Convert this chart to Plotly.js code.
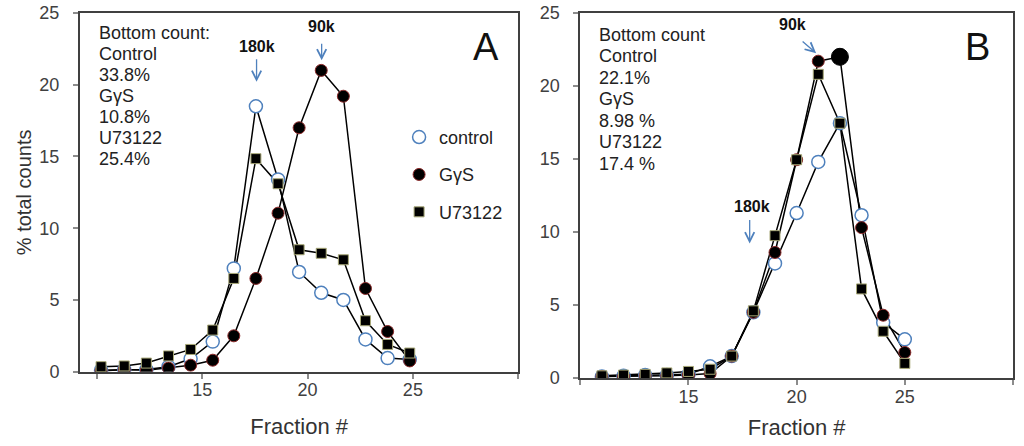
<!DOCTYPE html>
<html>
<head>
<meta charset="utf-8">
<script src="https://cdn.plot.ly/plotly-3.0.1.min.js"></script>
<style>
  html, body { margin: 0; padding: 0; background: #fff; }
  #chart { width: 1024px; height: 446px; }
</style>
</head>
<body>
<div id="chart"></div>
<script>
// panel A - fraction positions as they sit in the picture
const fractionsA = [10.2, 11.3, 12.35, 13.4, 14.45, 15.5, 16.5, 17.55, 18.6, 19.6, 20.65, 21.7, 22.75, 23.8, 24.85];
const controlA = [0.1, 0.15, 0.15, 0.35, 0.9, 2.1, 7.2, 18.5, 13.4, 6.95, 5.5, 5.0, 2.25, 0.95, 0.85];
const gysA = [0.05, 0.15, 0.1, 0.25, 0.45, 0.8, 2.5, 6.5, 11.05, 17.0, 21.0, 19.2, 5.8, 2.8, 0.75];
const u73122A = [0.35, 0.4, 0.6, 1.1, 1.55, 2.9, 6.5, 14.85, 13.1, 8.5, 8.25, 7.8, 3.55, 1.9, 1.3];

// panel B
const fractionsB = [11, 12, 13, 14, 15, 16, 17, 18, 19, 20, 21, 22, 23, 24, 25];
const controlB = [0.1, 0.15, 0.2, 0.2, 0.25, 0.8, 1.5, 4.5, 7.85, 11.3, 14.8, 17.45, 11.15, 3.8, 2.65];
const gysB = [0.1, 0.1, 0.15, 0.15, 0.2, 0.3, 1.5, 4.5, 8.6, 14.95, 21.7, 22.0, 10.3, 4.3, 1.75];
const u73122B = [0.15, 0.2, 0.25, 0.35, 0.45, 0.6, 1.5, 4.6, 9.75, 14.95, 20.8, 17.45, 6.1, 3.2, 1.0];

const seriesNames = ["control", "G\u03b3S", "U73122"];
const bottomA = ["Bottom count:", "Control", "33.8%", "G\u03b3S", "10.8%", "U73122", "25.4%"];
const bottomB = ["Bottom count", "Control", "22.1%", "G\u03b3S", "8.98 %", "U73122", "17.4 %"];

const tickVals = [10, 15, 20, 25, 30];
const tickText = ["", "15", "20", "25", ""];

const FONT = "Liberation Sans, Arial, sans-serif";
const ARROW = "#4f81bd";

const markerStyles = [
  { symbol: "circle", size: 13, color: "#ffffff", opacity: 1, line: { color: "#4f81bd", width: 1.5 } },
  { symbol: "circle", size: 12, color: "#000000", opacity: 1, line: { color: "#8b2a2a", width: 1 } },
  { symbol: "square", size: 10, color: "#000000", opacity: 1, line: { color: "#a8a878", width: 1 } },
];

function lineTrace(x, y, xa, ya) {
  return {
    x: x, y: y, xaxis: xa, yaxis: ya,
    mode: "lines", line: { color: "#000", width: 1.5 },
    showlegend: false, hoverinfo: "skip",
  };
}

function markerTrace(x, y, xa, ya, i, legend, sizeFn) {
  const m = Object.assign({}, markerStyles[i]);
  if (sizeFn) m.size = x.map(sizeFn);
  return {
    x: x, y: y, xaxis: xa, yaxis: ya,
    mode: "markers", marker: m,
    name: seriesNames[i], showlegend: legend, legendgroup: "g" + i,
  };
}

const seriesA = [controlA, gysA, u73122A];
const seriesB = [controlB, gysB, u73122B];

var data = [];
seriesA.forEach((s) => data.push(lineTrace(fractionsA, s, "x", "y")));
seriesB.forEach((s) => data.push(lineTrace(fractionsB, s, "x2", "y2")));
seriesB.forEach((s, i) => {
  // the GyS point at fraction 22 is drawn bigger in panel B
  var sizeFn = i === 1 ? (f) => (f === 22 ? 17 : 12) : null;
  var t = markerTrace(fractionsB, s, "x2", "y2", i, false, sizeFn);
  if (i === 1) t.marker.line = { color: fractionsB.map((f) => (f === 22 ? "#000" : "#8b2a2a")), width: 1 };
  data.push(t);
});
seriesA.forEach((s, i) => data.push(markerTrace(fractionsA, s, "x", "y", i, true)));

function axisX(domain, range, anchor, standoff) {
  return {
    domain: domain, range: range, anchor: anchor,
    tickvals: tickVals, ticktext: tickText,
    ticks: "outside", ticklen: 5, tickwidth: 2, tickcolor: "#8c8c8c",
    ticklabelstandoff: -4,
    showline: true, linecolor: "#404040", linewidth: 2, mirror: true,
    showgrid: false, zeroline: false,
    tickfont: { family: FONT, size: 18, color: "#404040" },
    title: { text: "Fraction #", font: { family: FONT, size: 22, color: "#333" }, standoff: standoff },
  };
}

function axisY(domain, anchor, title) {
  return {
    domain: domain, range: [0, 25], anchor: anchor,
    tickvals: [0, 5, 10, 15, 20, 25],
    ticks: "outside", ticklen: 5, tickwidth: 2, tickcolor: "#8c8c8c",
    ticklabelstandoff: 10,
    showline: true, linecolor: "#404040", linewidth: 2, mirror: true,
    showgrid: false, zeroline: false,
    tickfont: { family: FONT, size: 18, color: "#404040" },
    title: { text: title, font: { family: FONT, size: 20, color: "#333" }, standoff: 2 },
  };
}

var annotations = [];

function textBlock(lines, xa, ya, x, yTop, step) {
  lines.forEach((t, i) => {
    annotations.push({
      xref: xa, yref: ya, x: x, y: yTop - i * step,
      text: t, showarrow: false, xanchor: "left", yanchor: "middle",
      font: { family: FONT, size: 18, color: "#222" },
    });
  });
}
textBlock(bottomA, "x", "y", 10.0, 23.6, 1.467);
textBlock(bottomB, "x2", "y2", 10.75, 23.5, 1.47);

function arrow(xa, ya, x, y, ax, ay) {
  annotations.push({
    xref: xa, yref: ya, x: x, y: y, ax: ax, ay: ay, text: "",
    showarrow: true, arrowhead: 5, arrowsize: 1.4, arrowwidth: 1.3,
    arrowcolor: ARROW, standoff: 0, startstandoff: 0,
  });
}
function label(xa, ya, x, y, t, size, bold) {
  annotations.push({
    xref: xa, yref: ya, x: x, y: y, showarrow: false,
    text: bold ? "<b>" + t + "</b>" : t,
    font: { family: FONT, size: size, color: "#111" },
  });
}

arrow("x", "y", 17.58, 20.2, 0, -24);
label("x", "y", 17.58, 22.66, "180k", 16, true);
arrow("x", "y", 20.67, 21.7, 0, -18);
label("x", "y", 20.67, 24.06, "90k", 16, true);
label("x", "y", 28.48, 22.66, "A", 38, false);

arrow("x2", "y2", 20.9, 22.25, -15, -13);
label("x2", "y2", 19.83, 24.19, "90k", 16, true);
arrow("x2", "y2", 17.83, 9.22, 0, -25);
label("x2", "y2", 17.96, 11.73, "180k", 16, true);
label("x2", "y2", 28.35, 22.7, "B", 38, false);

var layout = {
  width: 1024, height: 446,
  margin: { l: 80, r: 11, t: 13, b: 68 },
  paper_bgcolor: "#fff", plot_bgcolor: "#fff",
  font: { family: FONT, color: "#333" },
  showlegend: true,
  legend: {
    x: 0.342, y: 0.71, xanchor: "left", yanchor: "top",
    bgcolor: "rgba(0,0,0,0)", font: { family: FONT, size: 18, color: "#222" },
    traceorder: "grouped", tracegroupgap: 11,
  },
  hovermode: false,
  xaxis: axisX([0, 0.4697], [9.2, 30], "y", 19),
  yaxis: axisY([0.0173, 1], "x", "% total counts"),
  xaxis2: axisX([0.5362, 1], [10, 30], "y2", 14),
  yaxis2: axisY([0, 1], "x2", ""),
  annotations: annotations,
};

Plotly.newPlot("chart", data, layout, { displayModeBar: false, staticPlot: true });
</script>
</body>
</html>
